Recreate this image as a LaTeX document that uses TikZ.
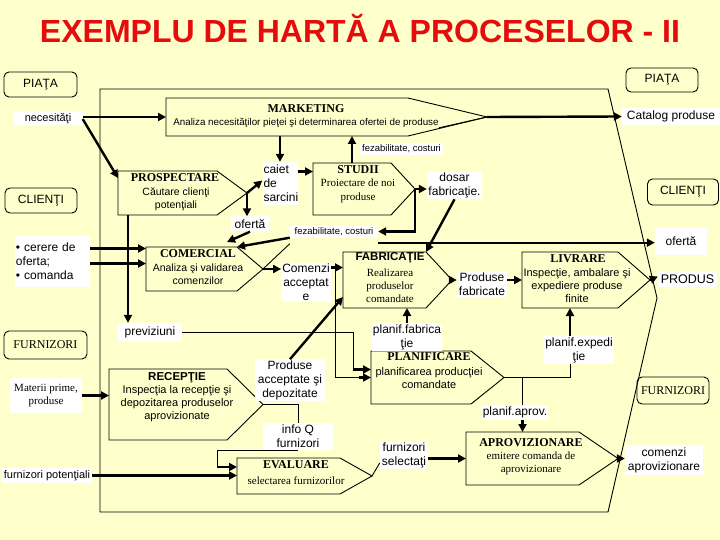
\documentclass[tikz,border=0pt]{standalone}
\usepackage{fontspec}
\setmainfont{Liberation Serif}
\setsansfont{Liberation Sans}
\usetikzlibrary{arrows.meta}
\definecolor{paper}{RGB}{255,255,204}
\definecolor{titlered}{RGB}{228,12,12}
\newcommand{\procshape}[2]{%
  \draw[outline] (#1.north west) -- (#1.north east) -- (#2,0 |- #1.east) coordinate (#1 tip)
    -- (#1.south east) -- (#1.south west) -- cycle;}
\tikzset{
  body/.style={inner sep=0pt, outer sep=0pt},
  outline/.style={line width=0.9pt},
  ln/.style={line width=0.9pt},
  arr/.style={line width=2.4pt, -{Triangle[length=8pt,width=8pt]}},
  head/.style={inner sep=0pt, font=\bfseries\fontsize{12}{14}\selectfont},
  headsf/.style={inner sep=0pt, font=\sffamily\bfseries\fontsize{11.5}{14}\selectfont},
  bodysf/.style={inner sep=0pt, align=center, font=\sffamily\fontsize{11}{13}\selectfont},
  bodyrm/.style={inner sep=0pt, align=center, font=\fontsize{11}{13.5}\selectfont},
  lbl/.style={fill=white, inner sep=1pt, align=center, font=\sffamily\fontsize{12}{14}\selectfont},
  lblsm/.style={lbl, font=\sffamily\fontsize{9.5}{11}\selectfont},
  lblrm/.style={lbl, font=\fontsize{11}{13}\selectfont},
  ext/.style={draw, line width=0.9pt, rounded corners=5pt, inner sep=0pt, font=\sffamily\fontsize{12}{14}\selectfont},
  extrm/.style={ext, font=\fontsize{12}{14}\selectfont},
}

\begin{document}
\begin{tikzpicture}[x=1pt, y=-1pt]
\fill[paper] (0,0) rectangle (720,540);
\useasboundingbox (0,0) rectangle (720,540);
\node[font=\sffamily\bfseries\fontsize{32}{38}\selectfont, text=titlered, anchor=base] (ttl) at (360,43) {EXEMPLU DE HARTĂ A PROCESELOR - II};

\node[ext, minimum width=73, minimum height=25] (piata1) at (40.5,84.5) {PIAŢA};
\node[ext, minimum width=72, minimum height=24] (piata2) at (662,80) {PIAŢA};
\node[ext, minimum width=72, minimum height=25] (cli1) at (41,200.5) {CLIENŢI};
\node[ext, minimum width=71, minimum height=26] (cli2) at (683,192) {CLIENŢI};
\node[extrm, minimum width=83, minimum height=28] (furn1) at (45.5,345) {FURNIZORI};
\node[extrm, minimum width=72, minimum height=27] (furn2) at (673,390.5) {FURNIZORI};

\draw[outline] (100,89) -- (608,89) -- (657,298) -- (608,512) -- (100,512) -- cycle;

\node[body, minimum width=242, minimum height=38] (mkt) at (287,117) {};
\node[body, minimum width=99, minimum height=44] (pros) at (167.5,193) {};
\node[body, minimum width=78, minimum height=52] (stud) at (352,189) {};
\node[body, minimum width=91, minimum height=44] (com) at (191.5,269) {};
\node[body, minimum width=83, minimum height=56] (fab) at (384.5,280) {};
\node[body, minimum width=96, minimum height=56] (liv) at (570,280) {};
\node[body, minimum width=118, minimum height=71] (rec) at (168,404.5) {};
\node[body, minimum width=103, minimum height=36] (eva) at (288.5,476) {};
\node[body, minimum width=100, minimum height=53] (plan) at (421,377.5) {};
\node[body, minimum width=113, minimum height=53] (apr) at (522.5,458.5) {};
\procshape{mkt}{487}
\procshape{pros}{247}
\procshape{stud}{415}
\procshape{com}{263}
\procshape{fab}{452}
\procshape{liv}{650}
\procshape{rec}{263}
\procshape{eva}{372}
\procshape{plan}{504}
\procshape{apr}{618}

\node[head] (mkt-h) at (306,109) {MARKETING};
\node[bodysf, font=\sffamily\fontsize{9.8}{12}\selectfont] (mkt-b) at (306,123) {Analiza necesităţilor pieţei şi determinarea ofertei de produse};
\node[head] (pros-h) at (175,178) {PROSPECTARE};
\node[bodysf, font=\sffamily\fontsize{10.5}{13}\selectfont] (pros-b) at (176,199.5) {Căutare clienţi\\potenţiali};
\node[head] (stud-h) at (358,170) {STUDII};
\node[bodyrm] (stud-b) at (358,191) {Proiectare de noi\\produse};
\node[head] (com-h) at (198,254) {COMERCIAL};
\node[bodysf, font=\sffamily\fontsize{10.5}{13}\selectfont] (com-b) at (198,274.5) {Analiza şi validarea\\comenzilor};
\node[headsf] (fab-h) at (390,258) {FABRICAŢIE};
\node[bodyrm, font=\fontsize{11}{13}\selectfont] (fab-b) at (390,286) {Realizarea\\produselor\\comandate};
\node[head] (liv-h) at (578,259) {LIVRARE};
\node[bodysf] (liv-b) at (577,286) {Inspecţie, ambalare şi\\expediere produse\\finite};
\node[headsf] (rec-h) at (177,378) {RECEPŢIE};
\node[bodysf] (rec-b) at (177,404) {Inspecţia la recepţie şi\\depozitarea produselor\\aprovizionate};
\node[head] (eva-h) at (296,465) {EVALUARE};
\node[bodyrm] (eva-b) at (296,481) {selectarea furnizorilor};
\node[head] (plan-h) at (429,357) {PLANIFICARE};
\node[bodysf] (plan-b) at (429,378.5) {planificarea producţiei\\comandate};
\node[head] (apr-h) at (531,443) {APROVIZIONARE};
\node[bodyrm, font=\fontsize{11}{13}\selectfont] (apr-b) at (531,463.5) {emitere comanda de\\aprovizionare};

\node[lbl, minimum width=69, minimum height=14, font=\sffamily\fontsize{11}{13}\selectfont] (nec) at (48,119) {necesităţi};
\node[lbl, minimum width=98, minimum height=17] (cat) at (671,116.5) {Catalog produse};
\node[lblsm, minimum width=83, minimum height=12] (fez1) at (401.5,149) {fezabilitate, costuri};
\node[lbl, text width=33, align=left, minimum height=43] (caiet) at (280,183.5) {caiet\\de\\sarcini};
\node[lbl, minimum width=55, minimum height=25] (dosar) at (454.5,185.5) {dosar\\fabricaţie.};
\node[lbl, minimum width=38, minimum height=15] (ofe1) at (250,224) {ofertă};
\node[lblsm, minimum width=88, minimum height=12] (fez2) at (334,231.5) {fezabilitate, costuri};
\node[lbl, minimum width=52, minimum height=27] (ofe2) at (681,241.5) {ofertă};
\node[lbl, minimum width=59, minimum height=15, font=\sffamily\fontsize{12.5}{14}\selectfont] (produs) at (687.5,279.5) {PRODUS};
\node[lbl, text width=73, align=left, minimum height=51] (cerere) at (52.5,261.5) {\textbullet{} cerere de\\oferta;\\\textbullet{} comanda};
\node[lbl, minimum width=48, minimum height=39] (comacc) at (306,282.5) {Comenzi\\acceptat\\e};
\node[lbl, minimum width=50, minimum height=25] (prodfab) at (482,284.5) {Produse\\fabricate};
\node[lbl, minimum width=64, minimum height=19] (previz) at (150,332.5) {previziuni};
\node[lblrm, minimum width=72, minimum height=35] (materii) at (46,395.5) {Materii prime,\\produse};
\node[lbl, minimum width=70, minimum height=40] (prodacc) at (290,380) {Produse\\acceptate şi\\depozitate};
\node[lbl, minimum width=70, minimum height=27] (infoq) at (298,436.5) {info Q\\furnizori};
\node[lbl, minimum width=90, minimum height=15, font=\sffamily\fontsize{11}{13}\selectfont] (furnpot) at (47,475.5) {furnizori potenţiali};
\node[lbl, minimum width=70, minimum height=23] (planfab) at (407,337) {planif.fabrica\\ţie};
\node[lbl, minimum width=68, minimum height=26] (planexp) at (579,350) {planif.expedi\\ţie};
\node[lbl, minimum width=66, minimum height=14] (planapr) at (515,412.5) {planif.aprov.};
\node[lbl, minimum width=48, minimum height=27] (furnsel) at (404,455) {furnizori\\selectaţi};
\node[lbl, minimum width=78, minimum height=30] (comapr) at (664,460) {comenzi\\aprovizionare};

\draw[arr] (nec.east |- mkt.west) -- (mkt.west);
\draw[arr] (nec.east) -- ([yshift=-7pt]pros.north west);
\draw[arr] (mkt tip) -- (cat.west);
\draw[ln] (mkt tip) -- (mkt-b.south east);
\draw[arr] (caiet.north |- mkt.south) -- (caiet.north);
\draw[arr] (stud.north) -- (stud.north |- mkt.south);
\draw[arr] ([yshift=12pt]caiet.east) -- ([yshift=12pt]caiet.east -| stud.west);
\draw[arr] (pros tip) -- ([yshift=3pt]caiet.west);
\draw[arr] (pros tip) -- (pros tip |- ofe1.north);
\draw[arr] (ofe1.south) -- ([shift={(-10pt,5pt)}]com.north east);
\draw[arr] (fez2.south west) -- (com.north east);
\draw[ln] (com tip) -- ([yshift=-6pt]fez2.south west);
\draw[arr] (stud tip) -- (stud tip -| dosar.west);
\draw[arr] (stud tip) |- (fez2.east);
\draw[arr] (dosar.south) -- (fab.north east);
\draw[arr] ([yshift=-5pt]fez2.south east) -- ([yshift=-5pt]fez2.south east -| ofe2.west);
\draw[arr] (com tip) -- (com tip -| comacc.west);
\coordinate (cj) at ([xshift=5pt,yshift=15pt]comacc.east);
\draw[arr] ([yshift=15pt]comacc.east) -- (cj -| fab.west);
\draw[ln] (cj) |- ([xshift=-12pt]plan.west);
\draw[arr] ([xshift=-12pt]plan.west) -- (plan.west);
\draw[ln] (previz.east) -| ([shift={(-18pt,8pt)}]plan.west);
\draw[arr] ([shift={(-18pt,8pt)}]plan.west) -- ([yshift=8pt]plan.west);
\draw[arr] (prodacc.north) -- ([yshift=11pt]fab.south west);
\coordinate (pvin) at ([xshift=-22pt]previz.north);
\draw[arr] (pvin |- pros.south) -- (pvin);
\draw[arr] (materii.east) -- (materii.east -| rec.west);
\draw[ln] (rec tip) -| (infoq.north);
\draw[ln] (infoq.south) -| ([shift={(-20pt,9pt)}]eva.west);
\draw[arr] ([shift={(-20pt,9pt)}]eva.west) -- ([yshift=9pt]eva.west);
\draw[arr] (furnpot.east) -- (furnpot.east -| eva.west);
\draw[ln] (eva tip) -- ([yshift=6pt]furnsel.south west);
\draw[arr] (furnsel.east |- apr.west) -- (apr.west);
\draw[arr] (fab tip) -- (fab tip -| prodfab.west);
\draw[arr] (prodfab.east |- liv.west) -- (liv.west);
\draw[arr] (liv tip) -- ([yshift=3pt]produs.west);
\draw[arr] (planfab.north) -- (planfab.north |- fab.south);
\draw[ln] (plan tip) -| (planexp.south -| liv.south);
\draw[arr] (planexp.north -| liv.south) -- (liv.south);
\draw[ln] (plan tip -| apr.north) -- (planapr.north -| apr.north);
\draw[arr] (planapr.south -| apr.north) -- (apr.north);
\draw[arr] (apr tip) -- (apr tip -| comapr.west);
\draw[arr] ([yshift=13pt]cerere.east) -- ([yshift=13pt]cerere.east -| com.west);
\draw[arr] ([yshift=-2pt]cerere.east) -- ([yshift=-2pt]cerere.east -| com.west);
\end{tikzpicture}
\end{document}
